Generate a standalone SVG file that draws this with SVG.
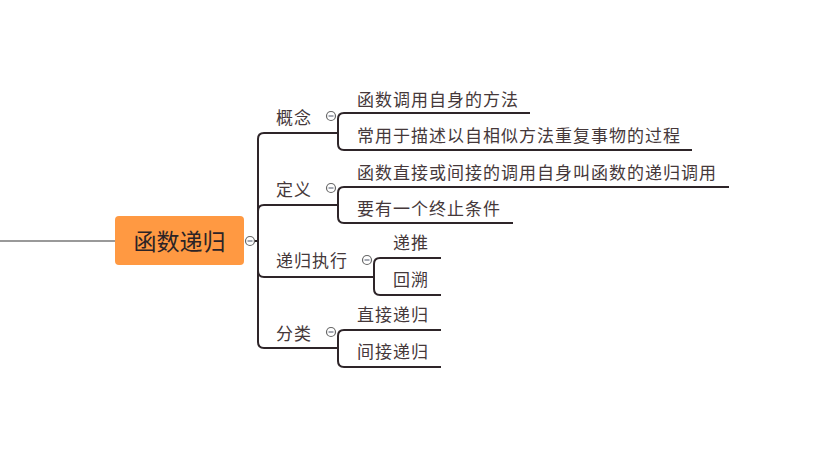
<svg xmlns="http://www.w3.org/2000/svg" width="833" height="453" viewBox="0 0 833 453">
<style>
.bg{fill:#ffffff}
.ln{fill:none;stroke:#2e2529;stroke-width:2;stroke-linecap:butt}
.t{font-family:"Noto Sans CJK SC","Liberation Sans",sans-serif;font-size:17px;fill:#45383a;letter-spacing:1px}
.root{font-family:"Noto Sans CJK SC","Liberation Sans",sans-serif;font-size:23px;fill:#2b2326}
.cc{fill:#ffffff;stroke:#666666;stroke-width:1.2}
.cm{stroke:#6a7080;stroke-width:1.2}
</style>
<rect class="bg" x="0" y="0" width="833" height="453"/>
<g id="connectors">
<line x1="0" y1="241" x2="115" y2="241" stroke="#999999" stroke-width="2"/>
<line x1="254" y1="241" x2="258" y2="241" class="ln" stroke-width="1.5"/>
<path class="ln" d="M258,241 L258,139 Q258,133 264,133 L338,133"/>
<path class="ln" d="M258,241 L258,211 Q258,205 264,205 L338,205"/>
<path class="ln" d="M258,241 L258,271 Q258,277 264,277 L374,277"/>
<path class="ln" d="M258,241 L258,342 Q258,348 264,348 L338,348"/>
<path class="ln" d="M338,133 L338,119 Q338,113 344,113 L530,113"/>
<path class="ln" d="M338,133 L338,144 Q338,150 344,150 L692,150"/>
<path class="ln" d="M338,205 L338,193 Q338,187 344,187 L729,187"/>
<path class="ln" d="M338,205 L338,217 Q338,223 344,223 L513,223"/>
<path class="ln" d="M374,277 L374,264 Q374,258 380,258 L441,258"/>
<path class="ln" d="M374,277 L374,289 Q374,295 380,295 L441,295"/>
<path class="ln" d="M338,348 L338,336 Q338,330 344,330 L441,330"/>
<path class="ln" d="M338,348 L338,361 Q338,367 344,367 L441,367"/>
</g>
<g id="root">
<rect x="115" y="216" width="129" height="49" rx="4" fill="#ff9942"/>
<text class="root" x="179.5" y="249.5" text-anchor="middle">函数递归</text>
<circle class="cc" cx="250" cy="241" r="4.5"/>
<line class="cm" x1="247.5" y1="241" x2="252.5" y2="241"/>
</g>
<g id="n-gainian">
<text class="t" x="276" y="124">概念</text>
<circle class="cc" cx="331" cy="116" r="4.5"/>
<line class="cm" x1="328.5" y1="116" x2="333.5" y2="116"/>
</g>
<g id="n-g1"><text class="t" x="357" y="106">函数调用自身的方法</text></g>
<g id="n-g2"><text class="t" x="357" y="142">常用于描述以自相似方法重复事物的过程</text></g>
<g id="n-dingyi">
<text class="t" x="276" y="196">定义</text>
<circle class="cc" cx="331" cy="188" r="4.5"/>
<line class="cm" x1="328.5" y1="188" x2="333.5" y2="188"/>
</g>
<g id="n-d1"><text class="t" x="357" y="179">函数直接或间接的调用自身叫函数的递归调用</text></g>
<g id="n-d2"><text class="t" x="357" y="215">要有一个终止条件</text></g>
<g id="n-zhixing">
<text class="t" x="276" y="267">递归执行</text>
<circle class="cc" cx="367" cy="260" r="4.5"/>
<line class="cm" x1="364.5" y1="260" x2="369.5" y2="260"/>
</g>
<g id="n-z1"><text class="t" x="393" y="249">递推</text></g>
<g id="n-z2"><text class="t" x="393" y="286">回溯</text></g>
<g id="n-fenlei">
<text class="t" x="276" y="340">分类</text>
<circle class="cc" cx="331" cy="332" r="4.5"/>
<line class="cm" x1="328.5" y1="332" x2="333.5" y2="332"/>
</g>
<g id="n-f1"><text class="t" x="357" y="321">直接递归</text></g>
<g id="n-f2"><text class="t" x="357" y="358">间接递归</text></g>
</svg>
